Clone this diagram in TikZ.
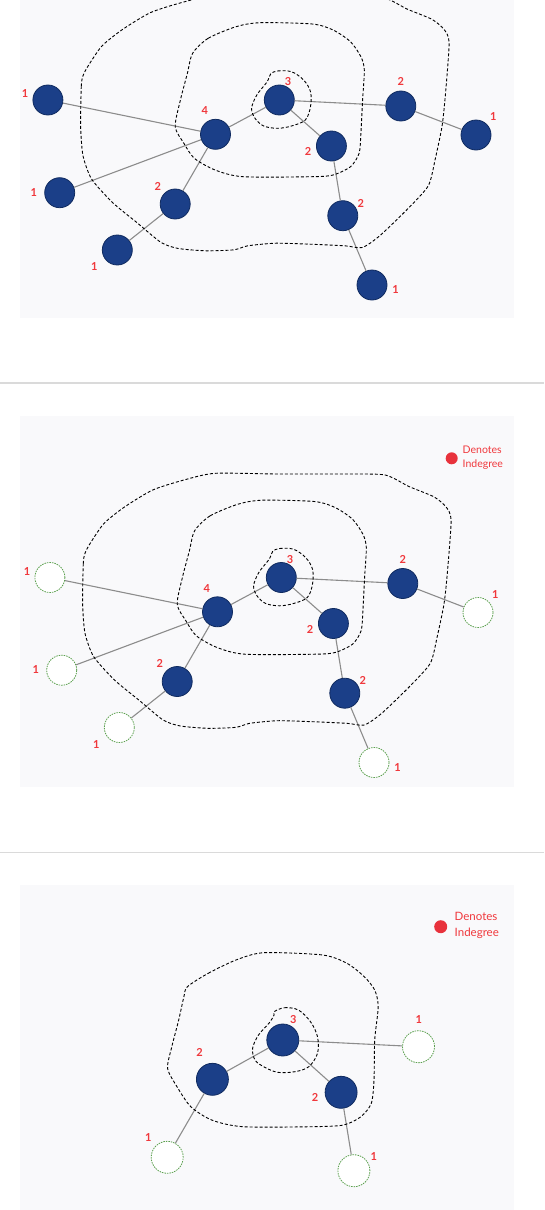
\documentclass[tikz,border=0pt]{standalone}
\usepackage{fontspec}
\setmainfont{Lato}
\definecolor{nodeblue}{HTML}{1B3F88}
\definecolor{nodeborder}{HTML}{102B60}
\definecolor{edgegray}{HTML}{8C8C8C}
\definecolor{leafgreen}{HTML}{5BA04E}
\definecolor{labelred}{HTML}{F0383C}
\definecolor{dotred}{HTML}{E8323C}
\definecolor{panelbg}{HTML}{F9F9FB}
\definecolor{sepgray}{HTML}{DADADA}
\tikzset{
  bluenode/.style={circle, fill=nodeblue, draw=nodeborder, line width=0.8pt, minimum size=30pt, inner sep=0pt},
  leafnode/.style={circle, fill=white, draw=leafgreen, line width=0.8pt, dash pattern=on 1.5pt off 1pt, minimum size=30pt, inner sep=0pt},
  edge/.style={draw=edgegray, line width=1.1pt},
  contour/.style={draw=black, line width=0.9pt, dash pattern=on 3pt off 2pt},
  lbl/.style={text=labelred, font=\bfseries\fontsize{11}{13}\selectfont, inner sep=0pt},
  legend/.style={text=labelred, align=left, inner sep=0pt, anchor=west},
}
\newcommand\graphpanel[1]{%
  \node[bluenode] (B) at (215.5,134.3) {};
  \node[bluenode] (C) at (279.3,100) {};
  \node[bluenode] (D) at (400.8,106) {};
  \node[bluenode] (F) at (331.4,146) {};
  \node[bluenode] (G) at (342.8,215.7) {};
  \node[bluenode] (J) at (175.2,204) {};
  \node[#1] (A) at (47.9,100) {};
  \node[#1] (E) at (476,135) {};
  \node[#1] (H) at (372,285) {};
  \node[#1] (I) at (59.7,192.7) {};
  \node[#1] (K) at (117.3,250) {};
  \draw[edge] (A) -- (B);
  \draw[edge] (I) -- (B);
  \draw[edge] (J) -- (B);
  \draw[edge] (K) -- (J);
  \draw[edge] (B) -- (C);
  \draw[edge] (C) -- (D);
  \draw[edge] (D) -- (E);
  \draw[edge] (C) -- (F);
  \draw[edge] (F) -- (G);
  \draw[edge] (G) -- (H);
  \node[lbl] (lA) at (25,94) {1};
  \node[lbl] (lB) at (204.7,111) {4};
  \node[lbl] (lC) at (288,81.7) {3};
  \node[lbl] (lD) at (400.8,81.7) {2};
  \node[lbl] (lE) at (493.4,116.7) {1};
  \node[lbl] (lF) at (308,151.7) {2};
  \node[lbl] (lG) at (360.9,203.3) {2};
  \node[lbl] (lH) at (395.6,290) {1};
  \node[lbl] (lI) at (33.7,192.3) {1};
  \node[lbl] (lJ) at (157.9,186) {2};
  \node[lbl] (lK) at (94.4,266.7) {1};
  % inner contour
  \draw[contour] plot[smooth cycle, tension=0.55] coordinates {
    (270.6,74) (277.6,71) (291.5,71.7) (303.6,80) (310.5,91.7) (310.5,106.7)
    (305.3,120) (291.5,126) (277.6,128.3) (263.7,126) (255,118.3) (251.6,108.3)
    (256.8,95) (267.2,81.7)};
  % middle contour
  \draw[contour] plot[smooth cycle, tension=0.45] coordinates {
    (192.6,53.3) (208.2,38.3) (236,26.7) (260.2,22.7) (312.3,24) (333.1,30)
    (350.5,41.7) (360.9,56.7) (364.3,70) (362.6,100) (360.9,133.3) (359.1,153.3)
    (350.5,166.7) (333.1,175) (312.3,176.7) (242.9,176.7) (215.1,170) (194.3,158.3)
    (183.9,143.3) (175.2,126.7) (180.4,100) (187.4,73.3)};
  % outer contour
  \draw[contour] plot[smooth cycle, tension=0.4] coordinates {
    (83,75.8) (81.3,85.8) (80.6,125.8) (83,155.8) (91.7,179.2) (112.5,202.5)
    (136.8,222.5) (161.1,242.5) (178.4,248.5) (206.2,250.8) (234,249.8) (247.8,245.8)
    (275.6,243.2) (310.3,244.2) (345,245.8) (362.3,247.5) (379.7,235.8) (407.4,209.2)
    (428.3,185.8) (435.2,159.2) (442.1,125.8) (445.6,92.5) (449.1,42.5) (443.9,29.2)
    (431.7,19.2) (407.4,9.2) (383.2,-2.5) (345,-3.5) (275.6,-3.5) (213.1,-4.2)
    (181.9,2.5) (150.7,12.5) (122.9,29.2) (102.1,45.8) (88.2,65.8)};
}
\begin{document}
\begin{tikzpicture}[x=1pt,y=-1pt]
\useasboundingbox (0,0) rectangle (544,1210);
\fill[white] (0,0) rectangle (544,1210);
% panel backgrounds and separators
\fill[panelbg] (20,0) rectangle (514,318);
\fill[panelbg] (20,416) rectangle (514,787);
\fill[panelbg] (20,885) rectangle (514,1210);
\draw[sepgray, line width=1.5pt] (0,383) -- (544,383);
\draw[sepgray, line width=1.5pt] (0,852.5) -- (544,852.5);
% panel 1
\begin{scope}[name prefix=p1-]
  \clip (20,0) rectangle (514,318);
  \graphpanel{bluenode}
\end{scope}
% panel 2
\begin{scope}[shift={(2,477.5)}, name prefix=p2-]
  \graphpanel{leafnode}
\end{scope}
\fill[dotred] (451.7,458.3) circle (6);
\node[legend, font=\fontsize{10.5}{14}\selectfont] (leg2) at (462.5,457.5) {Denotes\\Indegree};
% panel 3
\begin{scope}[name prefix=p3-, bluenode/.append style={minimum size=32pt}, leafnode/.append style={minimum size=32pt}]
  \node[bluenode] (C) at (282.8,1040) {};
  \node[bluenode] (L) at (212.4,1079.3) {};
  \node[bluenode] (R) at (341.1,1092.3) {};
  \node[leafnode] (G1) at (418.5,1046.7) {};
  \node[leafnode] (G2) at (167.2,1157.3) {};
  \node[leafnode] (G3) at (353.9,1170.7) {};
  \draw[edge] (C) -- (L);
  \draw[edge] (C) -- (R);
  \draw[edge] (C) -- (G1);
  \draw[edge] (L) -- (G2);
  \draw[edge] (R) -- (G3);
  \node[lbl] (lC) at (293.2,1020) {3};
  \node[lbl] (lL) at (199.5,1052.7) {2};
  \node[lbl] (lR) at (315,1097.7) {2};
  \node[lbl] (lG1) at (418.8,1020) {1};
  \node[lbl] (lG2) at (148.2,1137.3) {1};
  \node[lbl] (lG3) at (373.7,1156.7) {1};
  \draw[contour] plot[smooth cycle, tension=0.55] coordinates {
    (274.1,1011.7) (284.5,1007.7) (298.4,1010) (310.5,1021.7) (317.5,1036.7)
    (317.5,1053.3) (308.8,1066.7) (294.9,1071.7) (277.6,1072.3) (263.7,1066.7)
    (255,1060) (252.6,1048.3) (258.5,1035) (268.9,1023.3) (274.1,1015)};
  \draw[contour] plot[smooth cycle, tension=0.45] coordinates {
    (187.4,986.7) (208.2,973.3) (236,960) (263.7,952.7) (322.7,955) (347,963.3)
    (364.3,976.7) (374.7,990) (378.2,1006.7) (374.7,1040) (374,1080) (371.3,1103.3)
    (360.9,1116.7) (343.5,1125) (312.3,1126.7) (242.9,1126.7) (211.7,1120)
    (190.8,1106.7) (177,1086.7) (167.6,1068.3) (171.8,1046.7) (178.7,1020)
    (183.9,996.7)};
\end{scope}
\fill[dotred] (440.7,926.7) circle (6.5);
\node[legend, font=\fontsize{11.5}{16}\selectfont] (leg3) at (454.5,925) {Denotes\\Indegree};
\end{tikzpicture}
\end{document}
